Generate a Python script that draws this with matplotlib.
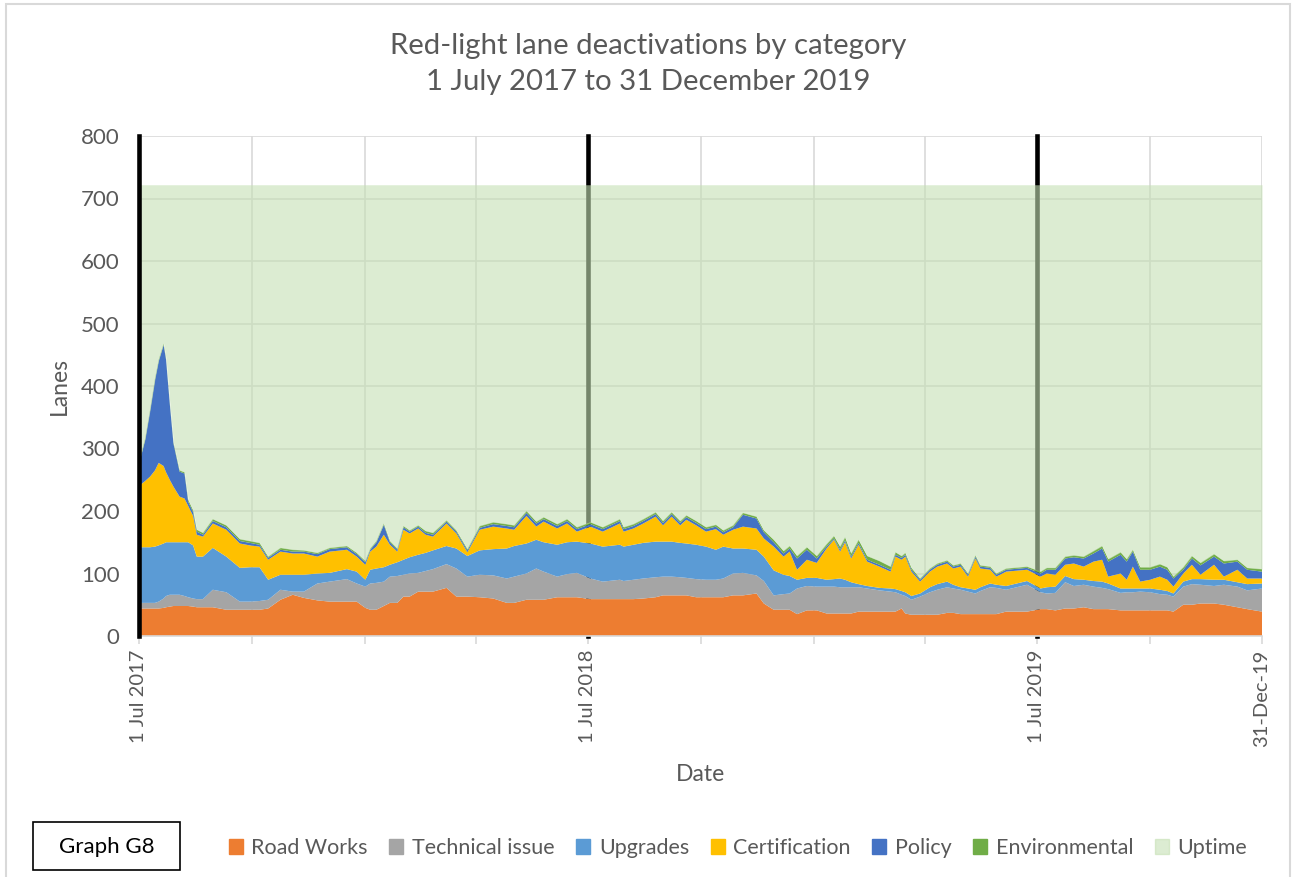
import matplotlib
matplotlib.use("Agg")
import matplotlib.pyplot as plt
import matplotlib.patches as mpatches
import numpy as np

plt.rcParams['font.family'] = ['Lato', 'DejaVu Sans']

day_offset = [0, 5, 9, 13, 16, 20, 22, 25, 28, 33, 37, 40, 44, 47, 52, 60, 71, 82, 90, 98,
              105, 115, 125, 134, 145, 155, 169, 177, 184, 188, 193, 199, 204, 210, 215, 220,
              227, 233, 239, 250, 258, 267, 277, 288, 299, 305, 315, 323, 329, 340, 348, 356,
              367, 377, 391, 394, 402, 410, 420, 426, 433, 440, 445, 453, 461, 469, 475, 483,
              491, 502, 508, 516, 524, 529, 535, 543, 551, 559, 565, 570, 574, 579, 585, 592,
              602, 611, 615, 620, 623, 628, 635, 643, 649, 657, 662, 668, 674, 680, 684, 692,
              697, 705, 722, 733, 738, 745, 753, 760, 768, 776, 783, 788, 798, 803, 808, 814,
              822, 830, 836, 841, 849, 856, 863, 874, 882, 893, 901, 913]

road_works = [44, 44, 44, 44, 44, 45, 46, 47, 48, 48, 48, 48, 47, 46, 46, 46, 42, 42, 42, 42,
              44, 58, 66, 61, 57, 55, 55, 55, 45, 42, 42, 48, 53, 53, 63, 63,
              71, 71, 71, 77, 63, 63, 62, 60, 53, 53, 58, 58, 58, 62, 62, 62,
              59, 59, 59, 59, 59, 60, 62, 65, 65, 65, 65, 62, 62, 62, 62, 65,
              65, 68, 52, 42, 42, 42, 35, 41, 41, 36, 36, 36, 36, 36, 39, 39,
              39, 39, 39, 44, 36, 34, 34, 34, 34, 37, 37, 35, 35, 35, 35, 35,
              35, 39, 39, 43, 43, 41, 44, 44, 46, 43, 43, 43, 41, 41, 41, 41,
              41, 41, 41, 39, 50, 50, 52, 52, 50, 46, 43, 39]

technical = [9, 9, 9, 9, 11, 15, 18, 19, 18, 18, 16, 14, 13, 13, 13, 28, 28, 13, 13, 14,
             14, 16, 5, 10, 27, 32, 36, 29, 34, 42, 43, 39, 42, 43, 35, 37,
             30, 33, 36, 38, 45, 32, 36, 37, 39, 42, 42, 50, 45, 33, 37, 39,
             33, 28, 31, 29, 31, 32, 32, 30, 30, 29, 28, 29, 28, 28, 30, 35,
             36, 29, 36, 23, 25, 26, 41, 39, 38, 43, 43, 42, 42, 42, 39, 37,
             34, 32, 31, 22, 28, 24, 29, 36, 40, 41, 39, 39, 36, 33, 37, 43,
             42, 35, 43, 27, 25, 28, 42, 36, 36, 36, 34, 32, 28, 29, 29, 30,
             29, 26, 25, 24, 29, 33, 30, 28, 32, 33, 30, 37]

upgrades = [89, 89, 89, 90, 90, 88, 86, 84, 84, 84, 86, 88, 85, 68, 68, 67, 57, 54, 55, 54,
            32, 24, 27, 27, 16, 14, 16, 19, 11, 22, 23, 23, 19, 22, 24, 26,
            29, 29, 30, 29, 32, 33, 39, 42, 48, 49, 48, 46, 47, 51, 51, 50,
            56, 56, 56, 55, 56, 57, 57, 56, 56, 55, 55, 55, 53, 48, 51, 40,
            39, 41, 39, 40, 31, 28, 14, 13, 14, 11, 12, 14, 12, 8, 5, 4,
            4, 5, 5, 6, 6, 6, 5, 8, 9, 9, 6, 4, 5, 6, 6, 6,
            5, 6, 6, 6, 10, 10, 10, 11, 8, 9, 10, 9, 7, 6, 6, 5,
            6, 7, 6, 5, 8, 8, 9, 10, 8, 7, 10, 8]

certification = [98, 106, 113, 122, 132, 124, 112, 100, 89, 73, 70, 58, 47, 35, 32, 39, 43, 39, 35, 33,
                 32, 37, 34, 34, 27, 34, 31, 24, 24, 29, 35, 52, 32, 17, 48, 38,
                 42, 29, 22, 36, 24, 6, 33, 36, 32, 26, 44, 21, 33, 26, 30, 16,
                 27, 24, 34, 24, 26, 31, 40, 26, 40, 28, 38, 31, 24, 33, 19, 30,
                 35, 34, 29, 38, 29, 39, 16, 29, 24, 50, 63, 43, 60, 38, 63, 39,
                 34, 27, 52, 50, 57, 39, 19, 25, 28, 29, 26, 33, 19, 50, 30, 22,
                 13, 23, 18, 19, 22, 19, 18, 25, 21, 31, 35, 11, 24, 14, 35, 11,
                 14, 21, 18, 11, 13, 23, 7, 24, 5, 20, 9, 8]

policy = [35, 66, 105, 145, 163, 194, 180, 122, 69, 40, 40, 7, 6, 5, 3, 4, 4, 4, 4, 3,
          3, 3, 3, 3, 4, 4, 4, 4, 4, 3, 7, 16, 4, 3, 4, 3,
          3, 3, 3, 3, 3, 3, 3, 4, 4, 4, 5, 5, 4, 4, 4, 4,
          4, 4, 4, 4, 4, 4, 4, 4, 4, 4, 4, 4, 4, 4, 4, 4,
          19, 16, 10, 7, 5, 5, 18, 16, 7, 3, 2, 3, 3, 3, 3, 3,
          3, 3, 3, 3, 3, 3, 3, 3, 3, 3, 3, 3, 3, 3, 3, 3,
          3, 3, 3, 5, 6, 8, 10, 10, 13, 13, 18, 24, 30, 29, 24, 19,
          16, 16, 16, 13, 6, 10, 15, 13, 21, 13, 14, 11]

environmental = [3, 2, 2, 2, 2, 2, 2, 2, 2, 2, 2, 3, 3, 3, 3, 3, 3, 3, 3, 3,
                 2, 3, 3, 2, 2, 2, 2, 2, 2, 2, 2, 2, 2, 2, 2, 2,
                 2, 3, 3, 2, 2, 2, 3, 3, 3, 3, 3, 3, 3, 3, 3, 3,
                 3, 3, 3, 3, 3, 3, 3, 3, 3, 3, 3, 3, 3, 3, 3, 3,
                 3, 3, 3, 4, 4, 4, 4, 4, 4, 4, 4, 5, 5, 5, 5, 6,
                 6, 5, 4, 3, 3, 3, 2, 2, 2, 2, 2, 2, 2, 2, 2, 2,
                 2, 2, 2, 3, 3, 3, 3, 3, 3, 4, 4, 4, 4, 4, 3, 4,
                 4, 4, 4, 3, 4, 4, 4, 4, 4, 3, 3, 4]

total_lanes = 722

series_names = ['Road Works', 'Technical issue', 'Upgrades', 'Certification',
                'Policy', 'Environmental', 'Uptime']
series_colors = ['#ED7D31', '#A5A5A5', '#5B9BD5', '#FFC000', '#4472C4', '#70AD47', '#C5E0B4']

quarter_ticks = ['2017-07-01', '2017-10-01', '2018-01-01', '2018-04-01', '2018-07-01',
                 '2018-10-01', '2019-01-01', '2019-04-01', '2019-07-01', '2019-10-01',
                 '2019-12-31']
quarter_labels = ['1 Jul 2017', '', '', '', '1 Jul 2018', '', '', '', '1 Jul 2019', '',
                  '31-Dec-19']
year_marks = ['2017-07-01', '2018-07-01', '2019-07-01']

start = np.datetime64('2017-07-01')
dates = (start + np.array(day_offset, dtype='timedelta64[D]')).astype('datetime64[D]').astype(object)
tick_dates = np.array(quarter_ticks, dtype='datetime64[D]').astype(object)
mark_dates = np.array(year_marks, dtype='datetime64[D]').astype(object)

grey_text = '#595959'
light = '#D9D9D9'

fig = plt.figure(figsize=(12.92, 8.77), dpi=100)
ax = fig.add_axes([139 / 1292, 1 - 636 / 877, 1123 / 1292, 500 / 877])

layers = [road_works, technical, upgrades, certification, policy, environmental]
ax.stackplot(dates, *layers, colors=series_colors[:6], linewidth=0, zorder=2)
stack_top = np.sum(np.array(layers), axis=0)
ax.fill_between(dates, stack_top, total_lanes, color=series_colors[6], alpha=0.6,
                linewidth=0, zorder=3)

# year markers: the first one sits on the axis and stays black over everything
for i, d in enumerate(mark_dates):
    ax.axvline(d, color='black', lw=3.3, zorder=5 if i == 0 else 1.5, clip_on=False)

ax.set_xlim(tick_dates[0], tick_dates[-1])
ax.set_ylim(0, 800)
ax.set_yticks(range(0, 801, 100))
ax.set_xticks(tick_dates)
ax.set_xticklabels(quarter_labels, rotation=90)
ax.grid(True, color=light, lw=1.2, zorder=0)
ax.set_axisbelow(True)

for s in ['top', 'right', 'left']:
    ax.spines[s].set_visible(False)
ax.spines['bottom'].set_color(light)
ax.spines['bottom'].set_linewidth(1.2)
ax.tick_params(axis='y', length=0, labelsize=16, labelcolor=grey_text, pad=14)
ax.tick_params(axis='x', length=6, color=light, width=1.2, labelsize=14.5,
               labelcolor=grey_text, pad=4)

ax.set_xlabel('Date', fontsize=16.5, color=grey_text, labelpad=12)
ax.set_ylabel('Lanes', fontsize=16.5, color=grey_text, labelpad=8)

fig.text(0.502, 0.927, 'Red-light lane deactivations by category\n1 July 2017 to 31 December 2019',
         ha='center', va='center', fontsize=21.2, color=grey_text, linespacing=1.5)

handles = [mpatches.Patch(color=c) for c in series_colors[:6]]
handles.append(mpatches.Patch(color=series_colors[6], alpha=0.6))
fig.legend(handles, series_names, loc='center', bbox_to_anchor=(738 / 1292, 1 - 848 / 877),
           ncol=7, frameon=False, fontsize=15.5, handlelength=0.65, handleheight=0.65,
           handletextpad=0.4, columnspacing=1.0, labelcolor=grey_text)

# label box in the corner
fig.patches.append(mpatches.Rectangle((33 / 1292, 1 - 870 / 877), 147 / 1292, 48 / 877,
                                      transform=fig.transFigure, facecolor='white',
                                      edgecolor='black', lw=1.2))
fig.text(106.5 / 1292, 1 - 847 / 877, 'Graph G8', ha='center', va='center',
         fontsize=16, color='black')

# outer chart frame
fig.patches.append(mpatches.Rectangle((6 / 1292, -0.01), 1284 / 1292, 1 - 4 / 877 + 0.01,
                                      transform=fig.transFigure, facecolor='none',
                                      edgecolor=light, lw=1.5))

fig.savefig('out.png', dpi=100)
